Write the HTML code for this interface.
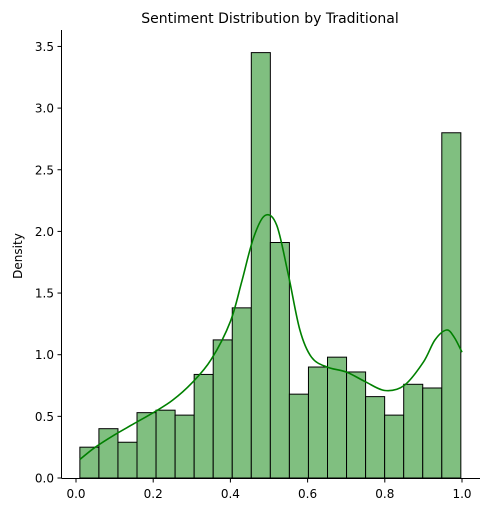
<!DOCTYPE html>
<html><head><meta charset="utf-8"><style>
body{margin:0;background:#fff;font-family:"Liberation Sans","DejaVu Sans",sans-serif;}
</style></head><body>
<svg id="chart" width="489" height="512" xmlns="http://www.w3.org/2000/svg" font-family="DejaVu Sans, Liberation Sans, sans-serif"></svg>
<script>
const binEdgesStart = 0.01;
const binEdgesEnd = 0.997;
const densities = [0.25,0.40,0.29,0.53,0.55,0.51,0.84,1.12,1.38,3.45,1.91,0.68,0.90,0.98,0.86,0.66,0.51,0.76,0.73,2.80];
const kdeX = [0.01,0.05,0.1,0.15,0.2,0.25,0.3,0.35,0.4,0.43,0.46,0.49,0.52,0.55,0.58,0.61,0.65,0.7,0.75,0.8,0.85,0.9,0.93,0.96,0.98,1.0];
const kdeY = [0.15,0.25,0.35,0.44,0.53,0.63,0.77,0.96,1.27,1.6,1.95,2.13,2.05,1.65,1.2,0.98,0.9,0.86,0.78,0.71,0.75,0.94,1.12,1.2,1.14,1.02];
const xTicks = [0.0,0.2,0.4,0.6,0.8,1.0];
const yTicks = [0.0,0.5,1.0,1.5,2.0,2.5,3.0,3.5];

const svg = document.getElementById('chart');
const NS = 'http://www.w3.org/2000/svg';
const X = v => 76 + v*386;
const Y = v => 478 - v*123.3;
function mk(tag, attrs){const e=document.createElementNS(NS,tag);for(const k in attrs)e.setAttribute(k,attrs[k]);svg.appendChild(e);return e;}

const bw = (binEdgesEnd-binEdgesStart)/densities.length;
densities.forEach((d,i)=>{
  const x0=X(binEdgesStart+i*bw), x1=X(binEdgesStart+(i+1)*bw);
  const r=mk('rect',{x:x0,y:Y(d),width:x1-x0,height:Y(0)-Y(d),fill:'#80bf80',stroke:'#000','stroke-width':1});
  
  
});
// smooth Catmull-Rom path through the KDE points
const pts = kdeX.map((x,i)=>[X(x),Y(kdeY[i])]);
let dstr='M'+pts[0][0].toFixed(1)+' '+pts[0][1].toFixed(1);
for(let i=0;i<pts.length-1;i++){
  const p0=pts[Math.max(0,i-1)],p1=pts[i],p2=pts[i+1],p3=pts[Math.min(pts.length-1,i+2)];
  const c1=[p1[0]+(p2[0]-p0[0])/6,p1[1]+(p2[1]-p0[1])/6];
  const c2=[p2[0]-(p3[0]-p1[0])/6,p2[1]-(p3[1]-p1[1])/6];
  dstr+='C'+c1.map(v=>v.toFixed(1)).join(' ')+' '+c2.map(v=>v.toFixed(1)).join(' ')+' '+p2.map(v=>v.toFixed(1)).join(' ');
}
const kde=mk('path',{d:dstr,fill:'none',stroke:'#008000','stroke-width':1.6,'stroke-linejoin':'round'});



const la=mk('line',{x1:61.5,y1:30,x2:61.5,y2:478.5,stroke:'#000','stroke-width':1});


const lb=mk('line',{x1:61.5,y1:478.5,x2:480,y2:478.5,stroke:'#000','stroke-width':1});



xTicks.forEach(t=>{
  mk('line',{x1:X(t),y1:478.5,x2:X(t),y2:482.5,stroke:'#000'});
  const tx=mk('text',{x:X(t),y:498,'font-size':12,'text-anchor':'middle'});
  tx.textContent=t.toFixed(1);
  
  
});
yTicks.forEach(t=>{
  mk('line',{x1:57.5,y1:Y(t),x2:61.5,y2:Y(t),stroke:'#000'});
  const tx=mk('text',{x:54,y:Y(t)+4.5,'font-size':12,'text-anchor':'end'});
  tx.textContent=t.toFixed(1);
  
  
});
const yt=mk('text',{x:22,y:256,'font-size':12,'text-anchor':'middle',transform:'rotate(-90 22 256)'});
yt.textContent='Density';


const tt=mk('text',{x:270,y:23,'font-size':14,'text-anchor':'middle'});
tt.textContent='Sentiment Distribution by Traditional';


</script>
</body></html>
